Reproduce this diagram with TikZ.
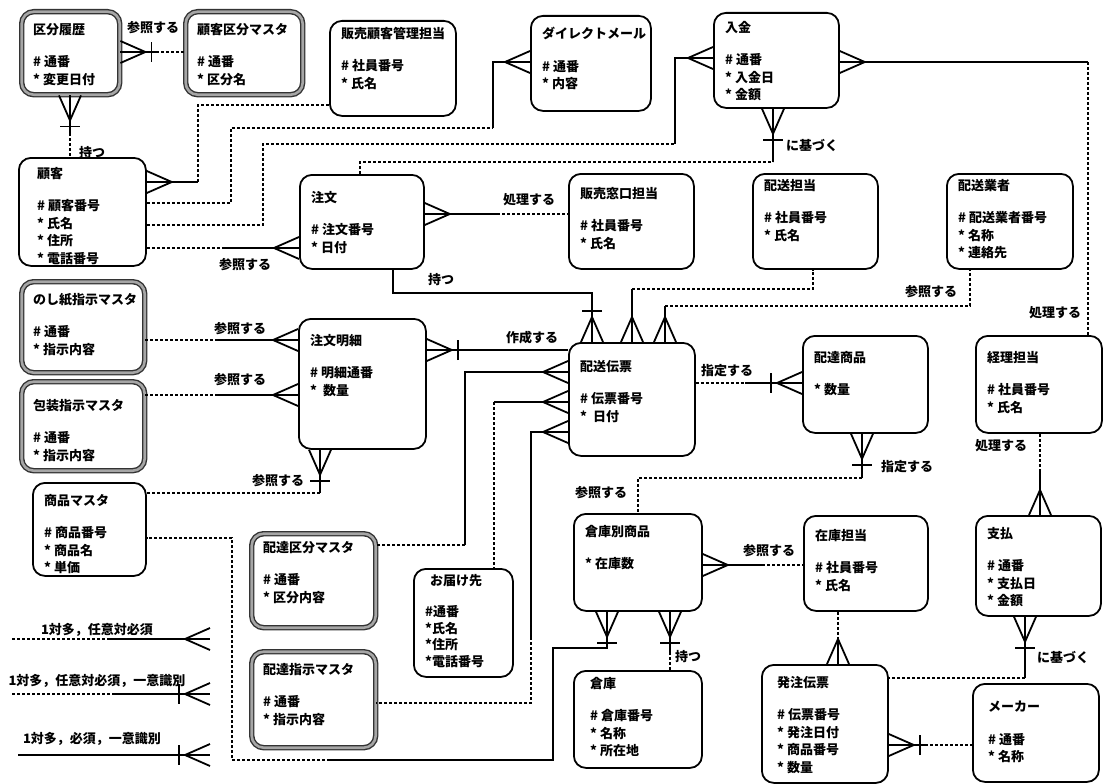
\documentclass[tikz,border=0pt]{standalone}
\usepackage{fontspec}
\setmainfont{Noto Sans CJK JP}
\usepackage{tikz}
\usetikzlibrary{calc}

\begin{document}
\begin{tikzpicture}[x=1pt, y=-1pt,
    ent/.style={rectangle, draw, line width=1.8pt, rounded corners=12pt, anchor=north west, inner sep=0pt},
    dbl/.style={ent, draw=black!80, double=black!35, double distance=2.6pt, line width=1.4pt},
    txt/.style={anchor=north west, align=left, inner sep=0pt, xshift=12pt, yshift=-12pt,
                font=\fontsize{13}{17.5}\selectfont\bfseries},
    lbl/.style={inner sep=0pt, font=\fontsize{13}{15}\selectfont\bfseries},
    rel/.style={line width=1.8pt},
    opt/.style={line width=1.6pt, dash pattern=on 3pt off 2pt},
    crowfoot/.pic={\draw[solid, line width=1.8pt] (0,-11) -- (-25,0) -- (0,11);},
    onebar/.pic={\draw[solid, line width=1.8pt] (-31,-10) -- (-31,10);}
]
\useasboundingbox (0,0) rectangle (1106,784);

\node[dbl, minimum width=98pt, minimum height=83pt] (kubunrireki) at (21,11) {};
\node[txt] (kubunrireki-t) at (kubunrireki.north west) {区分履歴\\[15pt]\# 通番\\{*} 変更日付};
\node[dbl, minimum width=117pt, minimum height=83pt] (kokyakukubun) at (185,11) {};
\node[txt] (kokyakukubun-t) at (kokyakukubun.north west) {顧客区分マスタ\\[15pt]\# 通番\\{*} 区分名};
\node[ent, minimum width=126pt, minimum height=95pt] (hanbaikanri) at (329,20) {};
\node[txt, yshift=5pt] (hanbaikanri-t) at (hanbaikanri.north west) {販売顧客管理担当\\[15pt]\# 社員番号\\{*} 氏名};
\node[ent, minimum width=120pt, minimum height=95pt] (dm) at (530,15) {};
\node[txt] (dm-t) at (dm.north west) {ダイレクトメール\\[15pt]\# 通番\\{*} 内容};
\node[ent, minimum width=125pt, minimum height=95pt] (nyukin) at (713,12) {};
\node[txt, yshift=3pt] (nyukin-t) at (nyukin.north west) {入金\\[15pt]\# 通番\\{*} 入金日\\{*} 金額};
\node[ent, minimum width=127pt, minimum height=108pt] (kokyaku) at (18,157) {};
\node[txt, xshift=7pt, yshift=2pt] (kokyaku-t) at (kokyaku.north west) {顧客\\[15pt]\# 顧客番号\\{*} 氏名\\{*} 住所\\{*} 電話番号};
\node[ent, minimum width=124pt, minimum height=94pt] (chumon) at (299,174) {};
\node[txt, yshift=-5pt] (chumon-t) at (chumon.north west) {注文\\[15pt]\# 注文番号\\{*} 日付};
\node[ent, minimum width=125pt, minimum height=95pt] (madoguchi) at (568,173) {};
\node[txt, yshift=-2pt] (madoguchi-t) at (madoguchi.north west) {販売窓口担当\\[15pt]\# 社員番号\\{*} 氏名};
\node[ent, minimum width=125pt, minimum height=95pt] (haisotanto) at (752,173) {};
\node[txt, yshift=6pt] (haisotanto-t) at (haisotanto.north west) {配送担当\\[15pt]\# 社員番号\\{*} 氏名};
\node[ent, minimum width=126pt, minimum height=95pt] (gyosha) at (946,173) {};
\node[txt, yshift=6pt] (gyosha-t) at (gyosha.north west) {配送業者\\[15pt]\# 配送業者番号\\{*} 名称\\{*} 連絡先};
\node[dbl, minimum width=123pt, minimum height=91pt] (noshi) at (21,281) {};
\node[txt] (noshi-t) at (noshi.north west) {のし紙指示マスタ\\[15pt]\# 通番\\{*} 指示内容};
\node[dbl, minimum width=123pt, minimum height=89pt] (hoso) at (21,381) {};
\node[txt, yshift=-6pt] (hoso-t) at (hoso.north west) {包装指示マスタ\\[15pt]\# 通番\\{*} 指示内容};
\node[ent, minimum width=127pt, minimum height=130pt] (meisai) at (298,318) {};
\node[txt, yshift=-4pt] (meisai-t) at (meisai.north west) {注文明細\\[15pt]\# 明細通番\\{*}\ \ 数量};
\node[ent, minimum width=126pt, minimum height=113pt] (denpyo) at (568,342) {};
\node[txt, yshift=-6pt] (denpyo-t) at (denpyo.north west) {配送伝票\\[15pt]\# 伝票番号\\{*}\ \ 日付};
\node[ent, minimum width=125pt, minimum height=97pt] (haitatsushohin) at (802,335) {};
\node[txt, yshift=-4pt] (haitatsushohin-t) at (haitatsushohin.north west) {配達商品\\[15pt]{*} 数量};
\node[ent, minimum width=126pt, minimum height=97pt] (keiri) at (975,335) {};
\node[txt, yshift=-4pt] (keiri-t) at (keiri.north west) {経理担当\\[15pt]\# 社員番号\\{*} 氏名};
\node[ent, minimum width=113pt, minimum height=93pt] (shohin) at (32,482) {};
\node[txt] (shohin-t) at (shohin.north west) {商品マスタ\\[15pt]\# 商品番号\\{*} 商品名\\{*} 単価};
\node[dbl, minimum width=124pt, minimum height=94pt] (haitatsukubun) at (251,533) {};
\node[txt, yshift=4pt] (haitatsukubun-t) at (haitatsukubun.north west) {配達区分マスタ\\[15pt]\# 通番\\{*} 区分内容};
\node[dbl, minimum width=124pt, minimum height=96pt] (haitatsushiji) at (251,651) {};
\node[txt] (haitatsushiji-t) at (haitatsushiji.north west) {配達指示マスタ\\[15pt]\# 通番\\{*} 指示内容};
\node[ent, minimum width=99pt, minimum height=108pt] (otodoke) at (413,568) {};
\node[txt, yshift=6pt, font=\fontsize{13}{16.5}\selectfont\bfseries] (otodoke-t) at (otodoke.north west) {\hspace*{5pt}お届け先\\[15pt]\#通番\\{*}氏名\\{*}住所\\{*}電話番号};
\node[ent, minimum width=128pt, minimum height=97pt] (sokobetsu) at (573,513) {};
\node[txt] (sokobetsu-t) at (sokobetsu.north west) {倉庫別商品\\[15pt]{*} 在庫数};
\node[ent, minimum width=124pt, minimum height=95pt] (zaiko) at (803,515) {};
\node[txt, yshift=-2pt] (zaiko-t) at (zaiko.north west) {在庫担当\\[15pt]\# 社員番号\\{*} 氏名};
\node[ent, minimum width=125pt, minimum height=100pt] (shiharai) at (975,515) {};
\node[txt] (shiharai-t) at (shiharai.north west) {支払\\[15pt]\# 通番\\{*} 支払日\\{*} 金額};
\node[ent, minimum width=128pt, minimum height=97pt] (soko) at (573,670) {};
\node[txt, xshift=5pt, yshift=5pt] (soko-t) at (soko.north west) {倉庫\\[15pt]\# 倉庫番号\\{*} 名称\\{*} 所在地};
\node[ent, minimum width=126pt, minimum height=118pt] (hacchu) at (761,664) {};
\node[txt, xshift=4pt] (hacchu-t) at (hacchu.north west) {発注伝票\\[15pt]\# 伝票番号\\{*} 発注日付\\{*} 商品番号\\{*} 数量};
\node[ent, minimum width=126pt, minimum height=98pt] (maker) at (972,683) {};
\node[txt, xshift=4pt, yshift=-6pt] (maker-t) at (maker.north west) {メーカー\\[15pt]\# 通番\\{*} 名称};

\draw[rel] (kubunrireki.east |- 0,52) pic[rotate=180]{crowfoot} pic[rotate=180]{onebar} -- (156,52);
\draw[opt] (156,52) -- (kokyakukubun.west |- 0,52);
\draw[rel] (kubunrireki.south -| 70,0) pic[rotate=90]{crowfoot} pic[rotate=90]{onebar} -- (70,133);
\draw[opt] (70,133) -- (kokyaku.north -| 70,0);
\draw[rel] (kokyaku.east |- 0,182) pic[rotate=180]{crowfoot} -- (198,182);
\draw[opt] (198,182) -- (198,105) -- (hanbaikanri.west |- 0,105);
\draw[opt] (kokyaku.east |- 0,203) -- (231,203) -- (231,128) -- (493,128);
\draw[rel] (493,128) -- (493,62) -- (dm.west |- 0,62) pic{crowfoot};
\draw[opt] (kokyaku.east |- 0,225) -- (263,225) -- (263,144) -- (675,144);
\draw[rel] (675,144) -- (675,58) -- (nyukin.west |- 0,58) pic{crowfoot};
\draw[opt] (chumon.north -| 360,0) -- (360,162) -- (773,162);
\draw[rel] (773,162) -- (nyukin.south -| 773,0) pic[rotate=90]{crowfoot} pic[rotate=90]{onebar};
\draw[opt] (kokyaku.east |- 0,248) -- (222,248);
\draw[rel] (222,248) -- (chumon.west |- 0,248) pic{crowfoot};
\draw[rel] (chumon.east |- 0,214) pic[rotate=180]{crowfoot} -- (497,214);
\draw[opt] (497,214) -- (madoguchi.west |- 0,214);
\draw[rel] (chumon.south -| 393,0) -- (393,293) -- (592,293) -- (denpyo.north -| 592,0) pic[rotate=-90]{crowfoot} pic[rotate=-90]{onebar};
\draw[rel] (denpyo.north -| 632,0) pic[rotate=-90]{crowfoot} -- (632,289);
\draw[opt] (632,289) -- (813,289) -- (haisotanto.south -| 813,0);
\draw[rel] (denpyo.north -| 665,0) pic[rotate=-90]{crowfoot} -- (665,306);
\draw[opt] (665,306) -- (970,306) -- (gyosha.south -| 970,0);
\draw[rel] (meisai.east |- 0,350) pic[rotate=180]{crowfoot} pic[rotate=180]{onebar} -- (denpyo.west |- 0,350);
\draw[rel] (denpyo.west |- 0,372) pic{crowfoot} -- (465,372) -- (465,545);
\draw[opt] (465,545) -- (haitatsukubun.east |- 0,545);
\draw[rel] (denpyo.west |- 0,402) pic{crowfoot} -- (494,402);
\draw[opt] (494,402) -- (otodoke.north -| 494,0);
\draw[rel] (denpyo.west |- 0,432) pic{crowfoot} -- (531,432) -- (531,637);
\draw[opt] (531,637) -- (531,703) -- (haitatsushiji.east |- 0,703);
\draw[opt] (denpyo.east |- 0,383) -- (745,383);
\draw[rel] (745,383) -- (haitatsushohin.west |- 0,383) pic{crowfoot} pic{onebar};
\draw[rel] (haitatsushohin.south -| 862,0) pic[rotate=90]{crowfoot} pic[rotate=90]{onebar} -- (862,478);
\draw[opt] (862,478) -- (638,478) -- (sokobetsu.north -| 638,0);
\draw[rel] (sokobetsu.east |- 0,565) pic[rotate=180]{crowfoot} -- (762,565);
\draw[opt] (762,565) -- (zaiko.west |- 0,565);
\draw[rel] (sokobetsu.south -| 607,0) pic[rotate=90]{crowfoot} pic[rotate=90]{onebar} -- (607,648) -- (553,648) -- (553,760) -- (330,760);
\draw[opt] (330,760) -- (232,760) -- (232,538) -- (shohin.east |- 0,538);
\draw[rel] (sokobetsu.south -| 670,0) pic[rotate=90]{crowfoot} pic[rotate=90]{onebar} -- (670,652);
\draw[opt] (670,652) -- (soko.north -| 670,0);
\draw[rel] (meisai.south -| 320,0) pic[rotate=90]{crowfoot} pic[rotate=90]{onebar} -- (320,493);
\draw[opt] (320,493) -- (shohin.east |- 0,493);
\draw[opt] (noshi.east |- 0,340) -- (215,340);
\draw[rel] (215,340) -- (meisai.west |- 0,340) pic{crowfoot};
\draw[opt] (hoso.east |- 0,395) -- (215,395);
\draw[rel] (215,395) -- (meisai.west |- 0,395) pic{crowfoot};
\draw[rel] (nyukin.east |- 0,62) pic[rotate=180]{crowfoot} -- (1088,62);
\draw[opt] (1088,62) -- (keiri.north -| 1088,0);
\draw[opt] (keiri.south -| 1040,0) -- (1040,470);
\draw[rel] (1040,470) -- (shiharai.north -| 1040,0) pic[rotate=-90]{crowfoot};
\draw[rel] (shiharai.south -| 1025,0) pic[rotate=90]{crowfoot} pic[rotate=90]{onebar} -- (1025,678);
\draw[opt] (1025,678) -- (hacchu.east |- 0,678);
\draw[opt] (zaiko.south -| 838,0) -- (838,640);
\draw[rel] (838,640) -- (hacchu.north -| 838,0) pic[rotate=-90]{crowfoot};
\draw[rel] (hacchu.east |- 0,745) pic[rotate=180]{crowfoot} pic[rotate=180]{onebar} -- (925,745);
\draw[opt] (925,745) -- (maker.west |- 0,745);

\node[lbl] (l-sansho1) at (153,28) {参照する};
\node[lbl] (l-motsu1) at (92,153) {持つ};
\node[lbl] (l-sansho2) at (245,265) {参照する};
\node[lbl] (l-shori1) at (529,200) {処理する};
\node[lbl] (l-motoduku1) at (812,145) {に基づく};
\node[lbl] (l-motsu2) at (441,280) {持つ};
\node[lbl] (l-sansho3) at (931,292) {参照する};
\node[lbl] (l-shori2) at (1055,313) {処理する};
\node[lbl] (l-sakusei) at (532,338) {作成する};
\node[lbl] (l-sansho4) at (240,329) {参照する};
\node[lbl] (l-sansho5) at (240,380) {参照する};
\node[lbl] (l-shitei1) at (727,371) {指定する};
\node[lbl] (l-shori3) at (1001,446) {処理する};
\node[lbl] (l-shitei2) at (907,467) {指定する};
\node[lbl] (l-sansho6) at (278,481) {参照する};
\node[lbl] (l-sansho7) at (601,493) {参照する};
\node[lbl] (l-sansho8) at (769,551) {参照する};
\node[lbl] (l-motsu3) at (688,657) {持つ};
\node[lbl] (l-motoduku2) at (1063,657) {に基づく};

\coordinate (lg1s) at (12,639);
\coordinate (lg1e) at (210,639);
\coordinate (lg2s) at (12,694);
\coordinate (lg2e) at (210,694);
\coordinate (lg3s) at (18,755);
\coordinate (lg3e) at (210,755);
\draw[opt] (lg1s) -- (108,639);
\draw[rel] (108,639) -- (lg1e) pic{crowfoot};
\draw[opt] (lg2s) -- (115,694);
\draw[rel] (115,694) -- (lg2e) pic{crowfoot} pic{onebar};
\draw[rel] (lg3s) -- (lg3e) pic{crowfoot} pic{onebar};
\node[lbl] (lg1) at (97,630) {1対多，任意対必須};
\node[lbl] (lg2) at (97,681) {1対多，任意対必須，一意識別};
\node[lbl] (lg3) at (92,739) {1対多，必須，一意識別};
\end{tikzpicture}
\end{document}
